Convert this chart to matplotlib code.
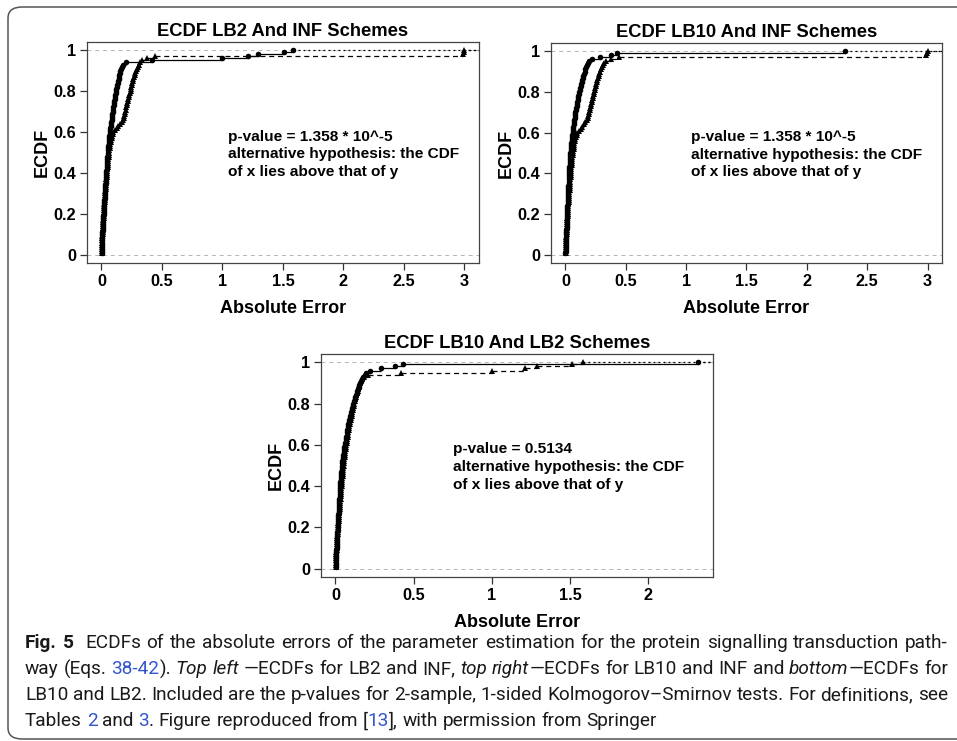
import numpy as np
import matplotlib
matplotlib.use('Agg')
import matplotlib.pyplot as plt
from matplotlib import font_manager
from matplotlib.patches import FancyBboxPatch

# sorted absolute errors (100 values each)
LB2 = [0.0004, 0.0012, 0.0019, 0.0027, 0.0034, 0.0042, 0.0050, 0.0057, 0.0066, 0.0078,
       0.0085, 0.0093, 0.0101, 0.0112, 0.0120, 0.0128, 0.0139, 0.0148, 0.0158, 0.0169,
       0.0178, 0.0189, 0.0197, 0.0208, 0.0221, 0.0230, 0.0241, 0.0252, 0.0266, 0.0279,
       0.0290, 0.0301, 0.0313, 0.0325, 0.0336, 0.0349, 0.0360, 0.0372, 0.0385, 0.0398,
       0.0409, 0.0421, 0.0433, 0.0444, 0.0458, 0.0469, 0.0482, 0.0494, 0.0507, 0.0520,
       0.0536, 0.0552, 0.0569, 0.0585, 0.0603, 0.0618, 0.0637, 0.0655, 0.0672, 0.0700,
       0.0721, 0.0740, 0.0762, 0.0785, 0.0804, 0.0829, 0.0851, 0.0872, 0.0896, 0.0920,
       0.0945, 0.0973, 0.1001, 0.1029, 0.1054, 0.1083, 0.1110, 0.1138, 0.1169, 0.1200,
       0.1236, 0.1270, 0.1307, 0.1342, 0.1379, 0.1416, 0.1452, 0.1488, 0.1527, 0.1570,
       0.1620, 0.1700, 0.1820, 0.2050, 0.4200, 1.0000, 1.2100, 1.2900, 1.5100, 1.5850]

LB10 = [0.0003, 0.0010, 0.0016, 0.0023, 0.0030, 0.0036, 0.0044, 0.0051, 0.0059, 0.0068,
        0.0075, 0.0082, 0.0088, 0.0096, 0.0103, 0.0110, 0.0117, 0.0124, 0.0131, 0.0140,
        0.0147, 0.0155, 0.0163, 0.0170, 0.0178, 0.0186, 0.0194, 0.0202, 0.0211, 0.0220,
        0.0228, 0.0236, 0.0244, 0.0252, 0.0260, 0.0268, 0.0276, 0.0283, 0.0291, 0.0300,
        0.0310, 0.0320, 0.0331, 0.0341, 0.0352, 0.0363, 0.0374, 0.0386, 0.0397, 0.0410,
        0.0426, 0.0443, 0.0461, 0.0479, 0.0497, 0.0516, 0.0536, 0.0556, 0.0577, 0.0600,
        0.0622, 0.0645, 0.0667, 0.0690, 0.0712, 0.0736, 0.0759, 0.0783, 0.0806, 0.0830,
        0.0859, 0.0888, 0.0920, 0.0950, 0.0980, 0.1010, 0.1042, 0.1073, 0.1106, 0.1140,
        0.1180, 0.1222, 0.1265, 0.1308, 0.1352, 0.1396, 0.1441, 0.1488, 0.1534, 0.1580,
        0.1640, 0.1710, 0.1790, 0.1870, 0.1950, 0.2200, 0.2900, 0.3800, 0.4300, 2.3200]

INF = [0.0005, 0.0014, 0.0023, 0.0032, 0.0041, 0.0050, 0.0060, 0.0069, 0.0079, 0.0090,
       0.0099, 0.0109, 0.0119, 0.0128, 0.0139, 0.0149, 0.0159, 0.0169, 0.0179, 0.0190,
       0.0201, 0.0212, 0.0224, 0.0236, 0.0248, 0.0260, 0.0272, 0.0284, 0.0297, 0.0310,
       0.0323, 0.0337, 0.0350, 0.0364, 0.0378, 0.0392, 0.0406, 0.0420, 0.0435, 0.0450,
       0.0466, 0.0482, 0.0499, 0.0516, 0.0533, 0.0550, 0.0567, 0.0584, 0.0601, 0.0620,
       0.0645, 0.0670, 0.0695, 0.0722, 0.0750, 0.0790, 0.0830, 0.0875, 0.0925, 0.0980,
       0.1100, 0.1250, 0.1400, 0.1550, 0.1660, 0.1780, 0.1840, 0.1890, 0.1940, 0.1980,
       0.2020, 0.2060, 0.2100, 0.2140, 0.2180, 0.2225, 0.2270, 0.2315, 0.2360, 0.2400,
       0.2440, 0.2480, 0.2515, 0.2550, 0.2590, 0.2640, 0.2690, 0.2740, 0.2795, 0.2850,
       0.2930, 0.3020, 0.3110, 0.3200, 0.3330, 0.3800, 0.4400, 2.9850, 2.9950, 3.0000]

titles = ['ECDF LB2 And INF Schemes', 'ECDF LB10 And INF Schemes', 'ECDF LB10 And LB2 Schemes']
pvalues = ['1.358 * 10^-5', '1.358 * 10^-5', '0.5134']
yticks = [0, 0.2, 0.4, 0.6, 0.8, 1]
ytick_labels = ['0', '0.2', '0.4', '0.6', '0.8', '1']
xticks_wide = [0, 0.5, 1, 1.5, 2, 2.5, 3]
xticks_narrow = [0, 0.5, 1, 1.5, 2]

W, H = 957, 741
plt.rcParams['font.family'] = ['Liberation Sans', 'DejaVu Sans']
plt.rcParams['font.weight'] = 'bold'

fig = plt.figure(figsize=(W / 100, H / 100), dpi=100)
renderer = fig.canvas.get_renderer()


def text_width(s, size, **kw):
    t = fig.text(0, 0, s, fontsize=size, **kw)
    w = t.get_window_extent(renderer).width
    t.remove()
    return w


def fit(s, target_px, **kw):
    # font size that gives the text the pixel width seen in the reference
    return 12.0 * target_px / text_width(s, 12.0, **kw)


title_fs = fit(titles[0], 249, fontweight='bold')
label_fs = fit('Absolute Error', 126, fontweight='bold')
note_fs = fit('alternative hypothesis: the CDF', 229, fontweight='bold')
tick_fs = fit('0.8', 22.5, fontweight='bold')


def rect(l, t, r, b):
    return [l / W, 1 - b / H, (r - l) / W, (b - t) / H]


def draw_ecdf(ax, data, ls, marker, ms, xmax):
    x = np.sort(np.asarray(data))
    y = np.arange(1, len(x) + 1) / len(x)
    ax.hlines(y[:-1], x[:-1], x[1:], colors='k', linestyles=ls, lw=0.9)
    ax.hlines(1, x[-1], xmax, colors='k', linestyles=(0, (1.5, 2.5)), lw=0.9)
    ax.plot(x, y, ls='none', marker=marker, ms=ms, color='k', mew=0)


panels = [
    (rect(87, 42, 479, 263), LB2, INF, xticks_wide, 0),
    (rect(551, 43, 942, 263), LB10, INF, xticks_wide, 1),
    (rect(321, 354, 713, 577), LB10, LB2, xticks_narrow, 2),
]

for pos, xs, ys, xt, i in panels:
    ax = fig.add_axes(pos)
    both = np.concatenate([xs, ys])
    lo, hi = both.min(), both.max()
    pad = 0.04 * (hi - lo)
    xlim = (lo - pad, hi + pad)
    ax.axhline(0, color='#b3b3b3', ls=(0, (4, 4)), lw=0.7)
    ax.axhline(1, color='#b3b3b3', ls=(0, (4, 4)), lw=0.7)
    draw_ecdf(ax, xs, '-', 'o', 4.0, xlim[1])
    draw_ecdf(ax, ys, (0, (4, 3)), '^', 4.6, xlim[1])
    ax.set_xlim(xlim)
    ax.set_ylim(-0.04, 1.04)
    ax.set_xticks(xt)
    ax.set_xticklabels([f'{v:g}' for v in xt])
    ax.set_yticks(yticks)
    ax.set_yticklabels(ytick_labels)
    ax.tick_params(length=5, width=0.9, pad=3, labelsize=tick_fs, color='#333333')
    for s in ax.spines.values():
        s.set_color('#444444')
        s.set_linewidth(0.9)
    ax.set_title(titles[i], fontsize=title_fs, fontweight='bold', pad=4)
    ax.set_xlabel('Absolute Error', fontsize=label_fs, fontweight='bold', labelpad=8)
    ax.set_ylabel('ECDF', fontsize=label_fs, fontweight='bold', labelpad=2)
    tx = 1.044 if i < 2 else 0.753
    lines = ['p-value = ' + pvalues[i], 'alternative hypothesis: the CDF', 'of x lies above that of y']
    for k, s in enumerate(lines):
        ax.text(tx, 0.578 - 0.086 * k, s, fontsize=note_fs, fontweight='bold', va='center', ha='left')

# rounded frame around figure + caption
frame = FancyBboxPatch((8 / W, 1 - 739 / H), 980 / W, 732 / H,
                       boxstyle='round,pad=0,rounding_size=0.015',
                       transform=fig.transFigure, fill=False, ec='#555555', lw=1.1)
fig.patches.append(frame)

# caption
names = {f.name for f in font_manager.fontManager.ttflist}
cap_font = 'Open Sans'
for cand in ['Liberation Sans Narrow', 'Roboto']:
    if cand in names:
        cap_font = cand
        break
blue = '#3355cc'
N, B, I, L = 'n', 'b', 'i', 'l'
caption = [
    [('Fig. 5', B), ('  ECDFs of the absolute errors of the parameter estimation for the protein signalling transduction path-', N)],
    [('way (Eqs. ', N), ('38-42', L), ('). ', N), ('Top left', I), (' —ECDFs for LB2 and INF, ', N), ('top right', I),
     ('—ECDFs for LB10 and INF and ', N), ('bottom', I), ('—ECDFs for', N)],
    [('LB10 and LB2. Included are the p-values for 2-sample, 1-sided Kolmogorov–Smirnov tests. For definitions, see', N)],
    [('Tables ', N), ('2', L), (' and ', N), ('3', L), ('. Figure reproduced from [', N), ('13', L),
     ('], with permission from Springer', N)],
]
baselines = [648.5, 674.5, 700.5, 726.5]
justify = [True, True, True, False]
x_left, x_right = 25, 948


def style_kw(st):
    kw = dict(family=[cap_font, 'DejaVu Sans'], fontweight='normal', color='#1a1a1a')
    if st == B:
        kw['fontweight'] = 'bold'
    if st == I:
        kw['fontstyle'] = 'italic'
    if st == L:
        kw['color'] = blue
    return kw


def split_words(runs):
    words = [[]]
    for text, st in runs:
        parts = text.split(' ')
        for k, part in enumerate(parts):
            if k > 0:
                words.append([])
            if part:
                words[-1].append((part, st))
    while words and not words[0]:
        words.pop(0)
    while words and not words[-1]:
        words.pop()
    return words


word_lines = [split_words(r) for r in caption]

# fit the size so that the justified lines fit the box width
base = 12.0
space0 = text_width('x x', base, **style_kw(N)) - text_width('xx', base, **style_kw(N))
size = 100
for wl, j in zip(word_lines, justify):
    if not j:
        continue
    nat = sum(text_width(f, base, **style_kw(st)) for w in wl for f, st in w) + space0 * (len(wl) - 1)
    size = min(size, base * (x_right - x_left) / nat)

space = text_width('x x', size, **style_kw(N)) - text_width('xx', size, **style_kw(N))
for wl, j, yb in zip(word_lines, justify, baselines):
    widths = [[text_width(f, size, **style_kw(st)) for f, st in w] for w in wl]
    total = sum(sum(w) for w in widths)
    gap = (x_right - x_left - total) / (len(wl) - 1) if j else space
    x = x_left
    for w, ws in zip(wl, widths):
        for (f, st), fw in zip(w, ws):
            fig.text(x / W, 1 - yb / H, f, va='baseline', ha='left', fontsize=size, **style_kw(st))
            x += fw
        x += gap

fig.savefig('out.png', dpi=100)
